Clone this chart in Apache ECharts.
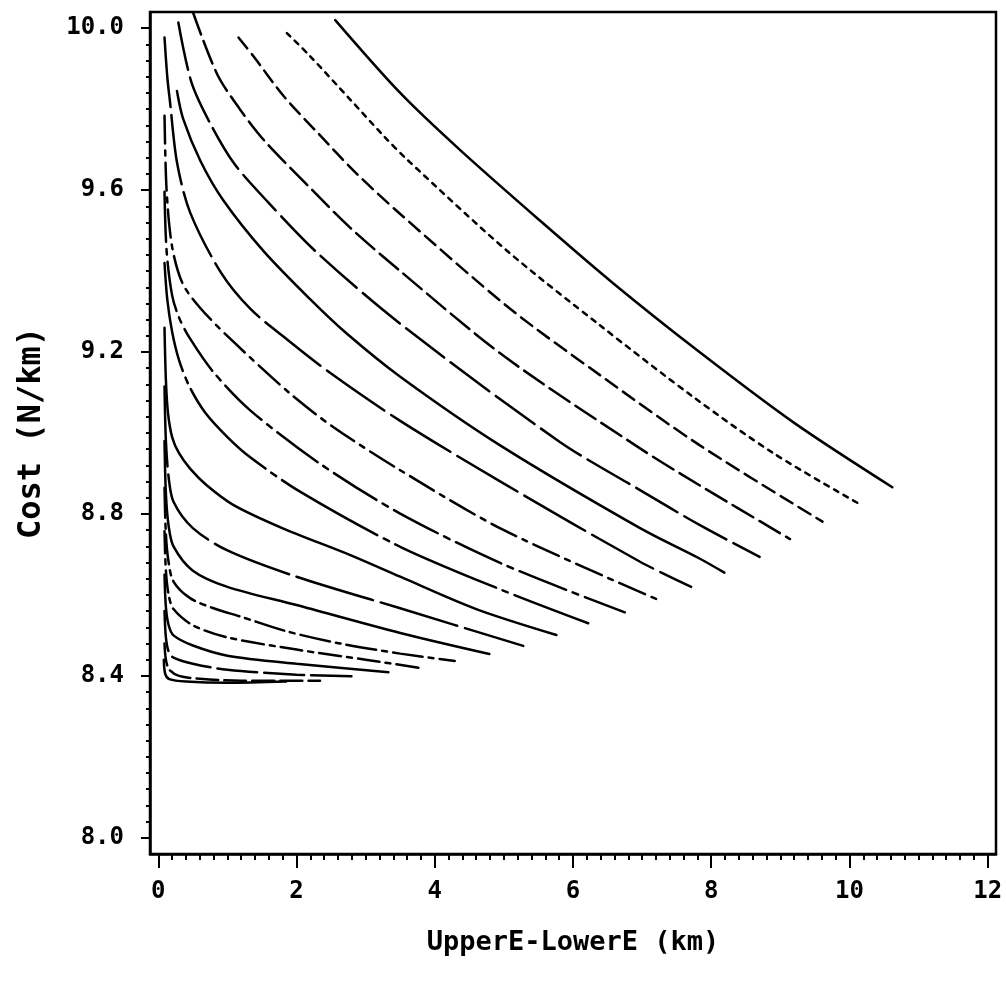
<!DOCTYPE html>
<html>
<head>
<meta charset="utf-8">
<script src="https://cdn.jsdelivr.net/npm/echarts@6/dist/echarts.min.js"></script>
<style>
  html, body { margin: 0; padding: 0; background: #fff; }
  #chart { width: 1006px; height: 985px; }
</style>
</head>
<body>
<div id="chart"></div>
<script>
// curves, [spread km, cost N/km], top-right curve first
const c1 = [[2.56,10.02],[3.5,9.84],[4.36,9.70],[5.52,9.525],[6.58,9.37],[7.83,9.20],[9.2,9.025],[10.62,8.866]]
const c2 = [[1.86,9.988],[2.19,9.932],[2.77,9.825],[3.26,9.734],[3.59,9.677],[5.04,9.451],[6.39,9.266],[7.74,9.089],[8.9,8.95],[10.15,8.824]]
const c3 = [[1.16,9.977],[1.38,9.93],[1.81,9.833],[2.32,9.739],[2.85,9.644],[3.5,9.541],[5.09,9.307],[6.39,9.143],[7.83,8.97],[9.61,8.781]]
const c4 = [[0.5,10.04],[0.85,9.887],[1.18,9.8],[1.52,9.725],[2.24,9.598],[2.77,9.508],[3.5,9.4],[5.0,9.19],[6.97,8.962],[7.83,8.871],[9.14,8.738]]
const c5 = [[0.29,10.014],[0.48,9.866],[0.75,9.765],[1.1,9.665],[1.6,9.568],[2.3,9.445],[3.5,9.27],[5.81,8.978],[6.97,8.859],[7.83,8.773],[8.7,8.694]]
const c6 = [[0.27,9.845],[0.36,9.776],[0.61,9.672],[0.94,9.575],[1.52,9.45],[2.2,9.33],[2.73,9.245],[3.5,9.139],[4.94,8.97],[6.97,8.765],[7.83,8.69],[8.19,8.655]]
const c7 = [[0.09,9.977],[0.13,9.88],[0.17,9.817],[0.27,9.669],[0.46,9.545],[0.9,9.398],[1.33,9.307],[1.85,9.233],[2.49,9.148],[3.5,9.03],[5.0,8.875],[6.97,8.682],[7.71,8.62]]
const c8 = [[0.09,9.784],[0.12,9.6],[0.2,9.46],[0.35,9.37],[0.6,9.31],[1.04,9.233],[1.91,9.097],[2.53,9.015],[3.5,8.908],[5.0,8.76],[7.23,8.588]]
const c9 = [[0.09,9.596],[0.12,9.45],[0.2,9.34],[0.3,9.285],[0.46,9.233],[0.8,9.15],[1.33,9.056],[2.34,8.924],[3.5,8.801],[5.0,8.675],[6.75,8.557]]
const c10 = [[0.09,9.42],[0.13,9.33],[0.2,9.25],[0.3,9.18],[0.45,9.115],[0.68,9.05],[1.0,8.99],[1.33,8.94],[2.05,8.855],[3.5,8.719],[5.0,8.61],[6.22,8.53]]
const c11 = [[0.09,9.26],[0.11,9.13],[0.14,9.05],[0.2,8.99],[0.3,8.95],[0.46,8.912],[0.7,8.871],[1.09,8.822],[1.81,8.764],[2.77,8.699],[3.5,8.645],[4.6,8.565],[5.76,8.501]]
const c12 = [[0.09,9.115],[0.11,8.98],[0.15,8.89],[0.22,8.83],[0.5,8.765],[1.0,8.71],[2.0,8.645],[3.5,8.567],[5.28,8.474]]
const c13 = [[0.09,8.98],[0.11,8.85],[0.15,8.77],[0.22,8.72],[0.5,8.66],[1.0,8.62],[2.0,8.575],[3.5,8.506],[4.79,8.454]]
const c14 = [[0.09,8.865],[0.11,8.75],[0.15,8.68],[0.22,8.633],[0.46,8.592],[0.8,8.567],[1.18,8.547],[1.86,8.51],[2.63,8.48],[3.5,8.455],[4.29,8.437]]
const c15 = [[0.09,8.757],[0.11,8.66],[0.15,8.6],[0.22,8.565],[0.5,8.525],[1.0,8.495],[2.0,8.465],[3.0,8.44],[3.81,8.419]]
const c16 = [[0.09,8.65],[0.11,8.57],[0.15,8.525],[0.22,8.5],[0.5,8.475],[1.0,8.45],[2.0,8.43],[3.33,8.409]]
const c17 = [[0.09,8.56],[0.11,8.495],[0.15,8.46],[0.22,8.445],[0.5,8.43],[1.0,8.415],[2.0,8.403],[2.85,8.399]]
const c18 = [[0.09,8.48],[0.11,8.44],[0.16,8.415],[0.3,8.4],[0.6,8.393],[1.2,8.388],[2.34,8.388]]
const c19 = [[0.08,8.44],[0.1,8.405],[0.16,8.392],[0.4,8.386],[1.0,8.383],[1.85,8.386]]

const curves = [c1, c2, c3, c4, c5, c6, c7, c8, c9, c10, c11, c12, c13, c14, c15, c16, c17, c18, c19]

// tick labels
const xMajor = [0, 2, 4, 6, 8, 10, 12]
const yMajor = [8.0, 8.4, 8.8, 9.2, 9.6, 10.0]
const xMinor = []
for (let i = 0; i <= 60; i++) xMinor.push(+(i * 0.2).toFixed(1))
const yMinor = []
for (let i = 0; i <= 50; i++) yMinor.push(+(8 + i * 0.04).toFixed(2))

// line pattern of each curve, same order as curves
const dashes = ['solid', [5, 6], [14, 7], [24, 7], [48, 8], 'solid', [70, 8], [28, 7, 5, 7], [50, 7, 6, 7],
  [110, 7, 6, 7], 'solid', [80, 8], 'solid', [30, 6, 5, 6], [22, 6, 5, 6], 'solid', [40, 7], [22, 6], 'solid']

const font = "'DejaVu Sans Mono', monospace"
const xRange = { min: -0.12, max: 12.12 }
const yRange = { min: 7.96, max: 10.04 }

const chart = echarts.init(document.getElementById("chart"), null, { renderer: "canvas" })

const option = {
  backgroundColor: "#fff",
  animation: false,
  grid: {
    left: 150, right: 10, top: 12, bottom: 131,
    show: true, borderColor: "#000", borderWidth: 2.5
  },
  xAxis: [
    {
      type: "value", ...xRange, position: "bottom",
      name: "UpperE-LowerE (km)", nameLocation: "middle", nameGap: 75,
      nameTextStyle: { fontFamily: font, fontSize: 27, fontWeight: "bold", color: "#000" },
      axisLine: { show: true, onZero: false, lineStyle: { color: "#000", width: 2.5 } },
      axisTick: { show: true, length: 14, customValues: xMajor, lineStyle: { color: "#000", width: 2 } },
      axisLabel: {
        customValues: xMajor, margin: 26, color: "#000", fontFamily: font, fontSize: 24, fontWeight: "bold",
        formatter: v => String(v)
      },
      splitLine: { show: false }
    },
    {
      type: "value", ...xRange, position: "bottom",
      axisLine: { show: false, onZero: false },
      axisTick: { show: true, length: 6, customValues: xMinor, lineStyle: { color: "#000", width: 2 } },
      axisLabel: { show: false },
      splitLine: { show: false }
    }
  ],
  yAxis: [
    {
      type: "value", ...yRange, position: "left",
      name: "Cost (N/km)", nameLocation: "middle", nameGap: 102,
      nameTextStyle: { fontFamily: font, fontSize: 32, fontWeight: "bold", color: "#000" },
      axisLine: { show: true, onZero: false, lineStyle: { color: "#000", width: 2.5 } },
      axisTick: { show: true, length: 9, customValues: yMajor, lineStyle: { color: "#000", width: 2 } },
      axisLabel: {
        customValues: yMajor, margin: 26, color: "#000", fontFamily: font, fontSize: 24, fontWeight: "bold",
        formatter: v => v.toFixed(1)
      },
      splitLine: { show: false }
    },
    {
      type: "value", ...yRange, position: "left",
      axisLine: { show: false, onZero: false },
      axisTick: { show: true, length: 4, customValues: yMinor, lineStyle: { color: "#000", width: 2 } },
      axisLabel: { show: false },
      splitLine: { show: false }
    }
  ],
  series: curves.map((pts, i) => ({
    type: "line",
    data: pts,
    xAxisIndex: 0,
    yAxisIndex: 0,
    showSymbol: false,
    smooth: 0.3,
    clip: true,
    lineStyle: { color: "#000", width: 2.5, type: dashes[i], cap: "round" }
  }))
}

chart.setOption(option)
</script>
</body>
</html>
